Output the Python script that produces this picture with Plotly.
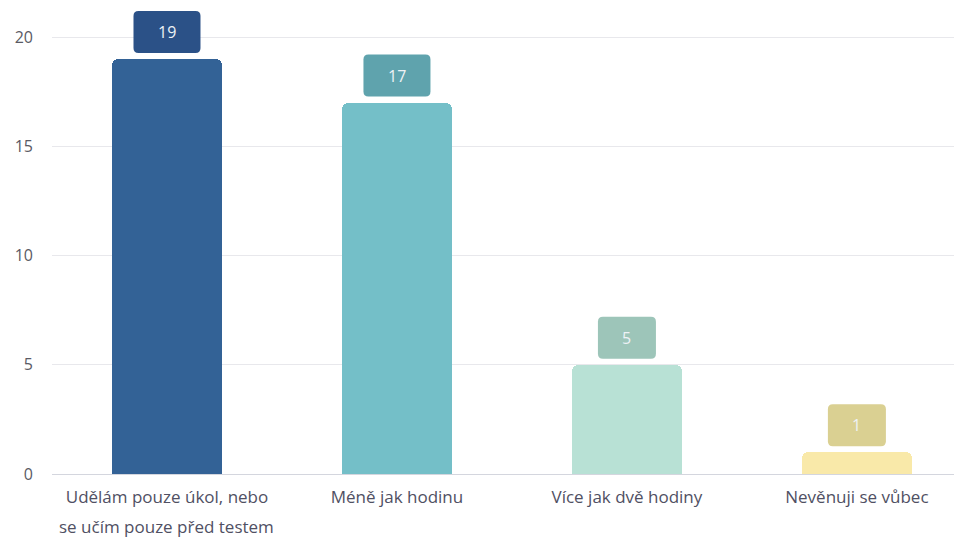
import plotly.graph_objects as go

categories = [
    "Udělám pouze úkol, nebo",
    "Méně jak hodinu",
    "Více jak dvě hodiny",
    "Nevěnuji se vůbec",
]
second_lines = ["se učím pouze před testem", "", "", ""]
counts = [19, 17, 5, 1]
bar_colors = ["#336296", "#74bfc8", "#b8e1d5", "#f9e9a9"]
box_colors = ["#2b5187", "#5fa3ad", "#9dc5b9", "#dad092"]
y_ticks = [0, 5, 10, 15, 20]

FONT = "Open Sans, Noto Sans, sans-serif"


def rounded_box(w, h, r, gap):
    # rounded rectangle in pixels, anchored at bar top, sitting `gap` px above it
    x0, x1 = -w / 2, w / 2
    y0, y1 = gap, gap + h
    return (
        f"M {x0 + r},{y0} L {x1 - r},{y0} Q {x1},{y0} {x1},{y0 + r} "
        f"L {x1},{y1 - r} Q {x1},{y1} {x1 - r},{y1} L {x0 + r},{y1} "
        f"Q {x0},{y1} {x0},{y1 - r} L {x0},{y0 + r} Q {x0},{y0} {x0 + r},{y0} Z"
    )


fig = go.Figure()
fig.add_trace(go.Bar(
    x=list(range(len(categories))),
    y=counts,
    width=0.48,
    marker=dict(color=bar_colors, cornerradius=6, line=dict(width=0)),
    hoverinfo="skip",
))

for i, (v, c) in enumerate(zip(counts, box_colors)):
    w = 58 + 9 * (len(str(v)) - 1)
    fig.add_shape(
        type="path", xref="x", yref="y",
        xsizemode="pixel", ysizemode="pixel",
        xanchor=i, yanchor=v,
        path=rounded_box(w, 42, 5, 6),
        fillcolor=c, line=dict(width=0), layer="above",
    )
    fig.add_annotation(
        x=i, y=v, xref="x", yref="y", text=str(v), showarrow=False,
        yshift=27, font=dict(family=FONT, size=16, color="#eef2f6"),
    )

for i, t in enumerate(second_lines):
    if t:
        fig.add_annotation(
            x=i, y=0, xref="x", yref="paper", text=t, showarrow=False,
            yshift=-66, font=dict(family=FONT, size=17, color="#505063"),
        )

# the page body adds an 8px offset, so the figure is a bit smaller than the window
fig.update_layout(
    width=954, height=529,
    paper_bgcolor="white", plot_bgcolor="white",
    margin=dict(l=44, r=0, t=0, b=63, autoexpand=False),
    showlegend=False,
    bargap=0,
)
fig.update_xaxes(
    tickvals=list(range(len(categories))), ticktext=categories,
    range=[-0.5, 3.457], showgrid=False, showline=True, linecolor="#d4d6de",
    linewidth=1, ticks="", ticklabelstandoff=8,
    tickfont=dict(family=FONT, size=17, color="#505063"),
    zeroline=False, automargin=False,
)
fig.update_yaxes(
    range=[0, 21.33], tickvals=y_ticks, gridcolor="#e8e8ec", zeroline=False,
    showline=False, ticks="", ticklabelstandoff=18, automargin=False,
    tickfont=dict(family=FONT, size=16, color="#5a5a64"),
)

fig.write_html("out.html")
